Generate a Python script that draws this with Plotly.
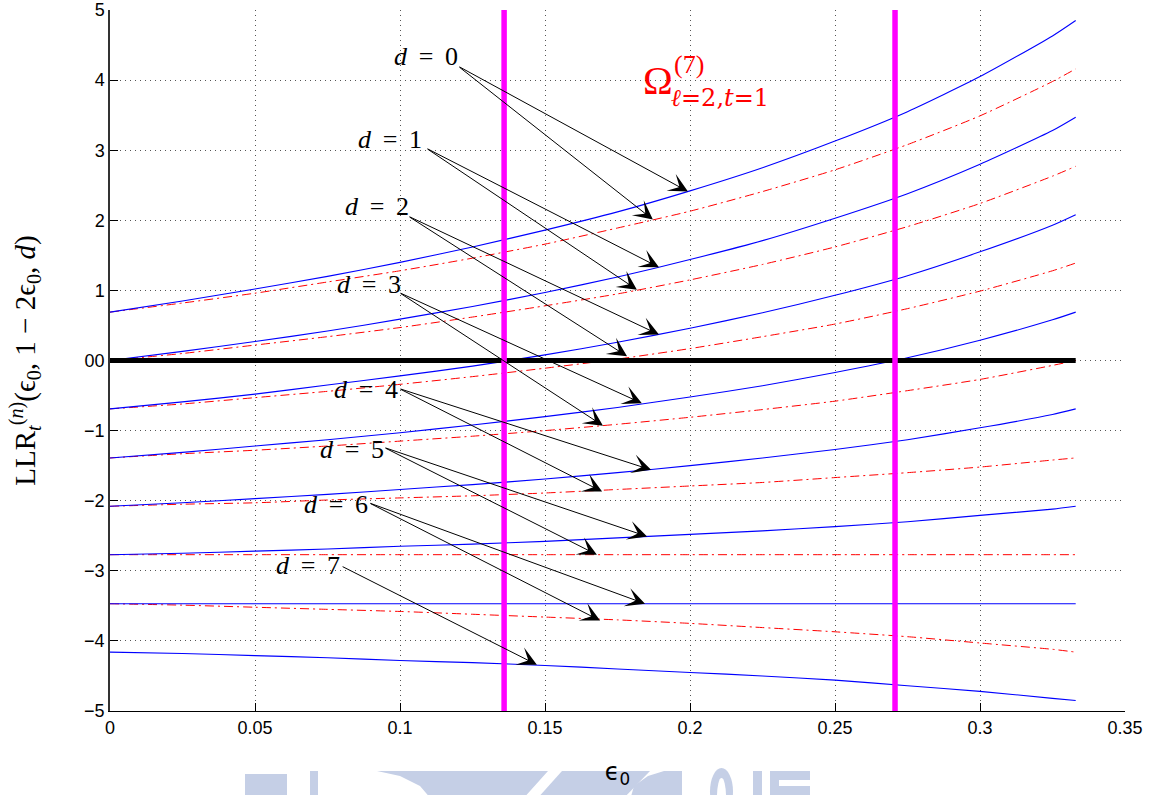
import plotly.graph_objects as go

# ---------------- data ----------------
eps = [0, 0.025, 0.05, 0.075, 0.1, 0.125, 0.15, 0.175, 0.2, 0.225, 0.25, 0.275, 0.3, 0.325, 0.333]

blue_d0 = [0.69, 0.85, 1.02, 1.20, 1.40, 1.62, 1.86, 2.12, 2.42, 2.75, 3.13, 3.55, 4.05, 4.63, 4.85]
blue_d1 = [0.00, 0.13, 0.27, 0.42, 0.59, 0.77, 0.97, 1.19, 1.44, 1.71, 2.03, 2.38, 2.80, 3.28, 3.47]
blue_d2 = [-0.69, -0.59, -0.48, -0.35, -0.22, -0.08, 0.08, 0.26, 0.46, 0.68, 0.93, 1.21, 1.55, 1.93, 2.08]
blue_d3 = [-1.39, -1.31, -1.22, -1.13, -1.03, -0.92, -0.80, -0.67, -0.52, -0.36, -0.17, 0.04, 0.29, 0.58, 0.69]
blue_d4 = [-2.08, -2.03, -1.97, -1.91, -1.84, -1.77, -1.69, -1.60, -1.50, -1.39, -1.27, -1.13, -0.96, -0.77, -0.69]
blue_d5 = [-2.77, -2.75, -2.72, -2.69, -2.65, -2.62, -2.58, -2.53, -2.48, -2.43, -2.37, -2.30, -2.21, -2.12, -2.08]
blue_d6 = [-3.47, -3.47, -3.47, -3.47, -3.47, -3.47, -3.47, -3.47, -3.47, -3.47, -3.47, -3.47, -3.47, -3.47, -3.47]
blue_d7 = [-4.16, -4.18, -4.21, -4.24, -4.28, -4.31, -4.35, -4.40, -4.45, -4.50, -4.56, -4.64, -4.72, -4.82, -4.85]

red_d0 = [0.69, 0.82, 0.96, 1.12, 1.28, 1.46, 1.66, 1.89, 2.13, 2.41, 2.72, 3.08, 3.49, 3.98, 4.16]
red_d1 = [0.00, 0.10, 0.22, 0.34, 0.47, 0.62, 0.78, 0.95, 1.15, 1.37, 1.62, 1.91, 2.24, 2.63, 2.77]
red_d2 = [-0.69, -0.62, -0.53, -0.44, -0.34, -0.23, -0.11, 0.02, 0.17, 0.34, 0.52, 0.74, 0.99, 1.28, 1.39]
red_d3 = [-1.39, -1.33, -1.28, -1.22, -1.15, -1.08, -1.00, -0.91, -0.81, -0.70, -0.58, -0.43, -0.27, -0.07, 0.00]
red_d4 = [-2.08, -2.05, -2.03, -1.99, -1.96, -1.93, -1.89, -1.84, -1.79, -1.74, -1.67, -1.60, -1.52, -1.42, -1.39]
red_d5 = [-2.77, -2.77, -2.77, -2.77, -2.77, -2.77, -2.77, -2.77, -2.77, -2.77, -2.77, -2.77, -2.77, -2.77, -2.77]
red_d6 = [-3.47, -3.49, -3.52, -3.55, -3.58, -3.62, -3.66, -3.70, -3.75, -3.81, -3.87, -3.94, -4.03, -4.12, -4.16]

blue_series = [blue_d0, blue_d1, blue_d2, blue_d3, blue_d4, blue_d5, blue_d6, blue_d7]
red_series = [red_d0, red_d1, red_d2, red_d3, red_d4, red_d5, red_d6]

zero_line_x = [0, 0.333]
zero_line_y = [0, 0]
omega_bounds = [0.1359, 0.2707]

x_ticks = [0, 0.05, 0.1, 0.15, 0.2, 0.25, 0.3, 0.35]
x_ticktext = ["0", "0.05", "0.1", "0.15", "0.2", "0.25", "0.3", "0.35"]
y_ticks = [-5, -4, -3, -2, -1, 0, 1, 2, 3, 4, 5]
y_ticktext = ["\u22125", "\u22124", "\u22123", "\u22122", "\u22121", "00", "1", "2", "3", "4", "5"]

d_labels = ["0", "1", "2", "3", "4", "5", "6", "7"]
# label centre positions (data units)
label_x = [0.1088, 0.0964, 0.0919, 0.0893, 0.0884, 0.0834, 0.0781, 0.0683]
label_y = [4.33, 3.15, 2.20, 1.09, -0.41, -1.27, -2.05, -2.93]
# arrow tails and tips (data units)
tail_x = [0.1200, 0.1090, 0.1028, 0.0997, 0.0997, 0.0945, 0.0893, 0.0797]
tail_y = [4.20, 3.03, 2.06, 0.97, -0.40, -1.24, -2.03, -2.93]
tip_blue_x = [0.1993, 0.1893, 0.1893, 0.1834, 0.1866, 0.1852, 0.1845, 0.1472]
tip_blue_y = [2.41, 1.33, 0.37, -0.61, -1.56, -2.51, -3.47, -4.34]
tip_red_x = [0.1872, 0.1817, 0.1783, 0.1700, 0.1697, 0.1679, 0.1690]
tip_red_y = [2.01, 1.01, 0.06, -0.93, -1.87, -2.77, -3.71]

# ---------------- figure ----------------
fig = go.Figure()

for s in red_series:
    fig.add_trace(go.Scatter(x=eps, y=s, mode="lines",
                             line=dict(color="#ff0000", width=1, dash="9px,4px,2px,4px",
                                       shape="spline", smoothing=0.6),
                             showlegend=False, hoverinfo="skip"))
for s in blue_series:
    fig.add_trace(go.Scatter(x=eps, y=s, mode="lines",
                             line=dict(color="#0000ff", width=1.1, shape="spline", smoothing=0.6),
                             showlegend=False, hoverinfo="skip"))

fig.add_trace(go.Scatter(x=zero_line_x, y=zero_line_y, mode="lines",
                         line=dict(color="#000000", width=5), showlegend=False, hoverinfo="skip"))

for xb in omega_bounds:
    fig.add_trace(go.Scatter(x=[xb, xb], y=[-5, 5], mode="lines",
                             line=dict(color="#ff00ff", width=5.5), showlegend=False,
                             hoverinfo="skip", cliponaxis=False))

serif = "Liberation Serif, DejaVu Serif, serif"
annotations = []
arrow_style = dict(showarrow=True, arrowhead=3, arrowsize=3.2, arrowwidth=1,
                   arrowcolor="#000000", standoff=0)
for i, d in enumerate(d_labels):
    annotations.append(dict(x=label_x[i], y=label_y[i], xref="x", yref="y",
                            text="<i>d</i>\u2009 = \u2009" + d, showarrow=False,
                            font=dict(family=serif, size=26, color="#000000"),
                            xanchor="center", yanchor="middle"))
    annotations.append(dict(x=tip_blue_x[i], y=tip_blue_y[i], ax=tail_x[i], ay=tail_y[i],
                            xref="x", yref="y", axref="x", ayref="y", text="", **arrow_style))
    if i < len(tip_red_x):
        annotations.append(dict(x=tip_red_x[i], y=tip_red_y[i], ax=tail_x[i], ay=tail_y[i],
                                xref="x", yref="y", axref="x", ayref="y", text="", **arrow_style))

annotations += [
    dict(x=0.1888, y=4.0, xref="x", yref="y", text="\u03a9", showarrow=False,
         font=dict(family=serif, size=40, color="#ff0000"), xanchor="center", yanchor="middle"),
    dict(x=0.1938, y=4.22, xref="x", yref="y", text="(7)", showarrow=False,
         font=dict(family=serif, size=26, color="#ff0000"), xanchor="left", yanchor="middle"),
    dict(x=0.1928, y=3.75, xref="x", yref="y", text="<i>\u2113</i>=2,<i>t</i>=1", showarrow=False,
         font=dict(family="DejaVu Serif, serif", size=24, color="#ff0000"), xanchor="left", yanchor="middle"),
]

# faint watermark at the bottom of the page (pixel -> paper conversion)
L, R, T, B = 110, 1125, 10, 711
def px(xp):
    return (xp - L) / (R - L)
def py(yp):
    return (B - yp) / (B - T)

wm = "#c5cfe6"
def rect(x0, y0, x1, y1):
    return dict(type="rect", xref="paper", yref="paper", x0=px(x0), x1=px(x1),
                y0=py(y1), y1=py(y0), fillcolor=wm, line=dict(width=0), layer="below")
def poly(pts):
    p = "M " + " L ".join(f"{px(a):.5f} {py(b):.5f}" for a, b in pts) + " Z"
    return dict(type="path", xref="paper", yref="paper", path=p, fillcolor=wm,
                line=dict(width=0), layer="below")

shapes = [
    rect(245, 774, 287, 800),
    rect(310, 771, 318, 800),
    poly([(377, 771), (548, 771), (522, 800), (432, 800), (420, 786), (400, 776)]),
    poly([(562, 771), (650, 771), (622, 800), (536, 800)]),
    poly([(682, 771), (682, 800), (630, 800), (634, 786), (648, 776), (664, 771)]),
    dict(type="circle", xref="paper", yref="paper", x0=px(710), x1=px(733), y0=py(815), y1=py(768),
         fillcolor=wm, line=dict(width=0), layer="below"),
    dict(type="circle", xref="paper", yref="paper", x0=px(717), x1=px(726), y0=py(815), y1=py(778),
         fillcolor="#ffffff", line=dict(width=0), layer="below"),
    rect(753, 771, 762, 800),
    rect(770, 771, 810, 780),
    rect(770, 771, 779, 800),
    rect(770, 786, 810, 800),
]

tickfont = dict(family="Liberation Sans, Arial, sans-serif", size=18, color="#000000")
griddash = "1px,4px"

fig.update_layout(
    width=1158, height=795,
    margin=dict(l=L, r=1158 - R, t=T, b=795 - B, pad=0),
    paper_bgcolor="#ffffff", plot_bgcolor="rgba(0,0,0,0)",
    showlegend=False,
    annotations=annotations,
    shapes=shapes,
    xaxis=dict(range=[0, 0.35], tickvals=x_ticks, ticktext=x_ticktext, tickfont=tickfont,
               ticks="inside", ticklen=8, tickcolor="#000000",
               showgrid=True, gridcolor="#555555", griddash=griddash, gridwidth=1,
               zeroline=False, showline=True, linecolor="#000000", linewidth=1,
               title=dict(text="\u03f5<sub>0</sub>", font=dict(family="DejaVu Sans, sans-serif", size=24, color="#000000"),
                          standoff=26),
               automargin=False),
    yaxis=dict(range=[-5, 5], tickvals=y_ticks, ticktext=y_ticktext, tickfont=tickfont,
               ticks="inside", ticklen=8, tickcolor="#000000",
               showgrid=True, gridcolor="#555555", griddash=griddash, gridwidth=1,
               zeroline=False, showline=True, linecolor="#333333", linewidth=1.5,
               title=dict(text="LLR<sub><i>t</i></sub><sup>(<i>n</i>)</sup>(\u03f5<sub>0</sub>, 1 \u2212 2\u03f5<sub>0</sub>, <i>d</i>)",
                          font=dict(family=serif, size=29, color="#000000"), standoff=40),
               automargin=False),
)

fig.write_html("out.html")
